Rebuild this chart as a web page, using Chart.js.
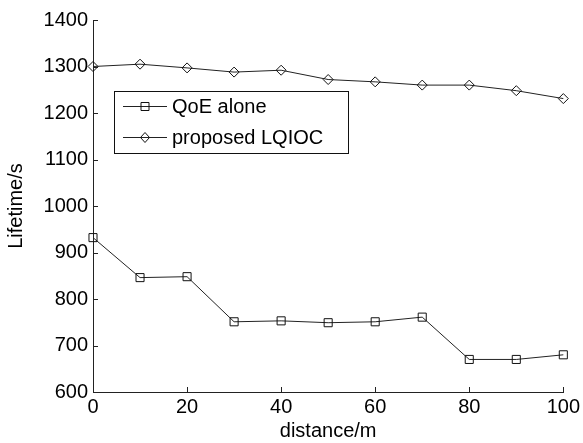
<!DOCTYPE html>
<html>
<head>
<meta charset="utf-8">
<title>Lifetime vs distance</title>
<style>
  html, body { margin: 0; padding: 0; background: #fff; }
  #wrap { width: 583px; height: 443px; }
</style>
<script src="https://cdn.jsdelivr.net/npm/chart.js@4.4.0/dist/chart.umd.min.js"></script>
</head>
<body>
<div id="wrap"><canvas id="chart" width="583" height="443"></canvas></div>
<script>
/* ---- data ---- */
const distances = [0, 10, 20, 30, 40, 50, 60, 70, 80, 90, 100];
const qoeAlone = [932, 846, 848, 751, 753, 749, 751, 761, 670, 670, 680];
const proposedLQIOC = [1300, 1305, 1297, 1288, 1292, 1272, 1267, 1260, 1260, 1248, 1231];
const xTicks = [0, 20, 40, 60, 80, 100];
const yTicks = [600, 700, 800, 900, 1000, 1100, 1200, 1300, 1400];

const FONT = "'Liberation Sans', Arial, Helvetica, sans-serif";
const INK = "#000";

Chart.defaults.font.family = FONT;
Chart.defaults.color = INK;

/* ticks pointing into the plot, matlab style */
const inwardTicks = {
  id: "inwardTicks",
  afterDraw(chart) {
    const { ctx, chartArea, scales } = chart;
    ctx.save();
    ctx.strokeStyle = "#222";
    ctx.lineWidth = 1;
    ctx.beginPath();
    scales.x.ticks.forEach((t) => {
      const px = Math.round(scales.x.getPixelForValue(t.value)) + 0.5;
      ctx.moveTo(px, chartArea.bottom);
      ctx.lineTo(px, chartArea.bottom - 5);
    });
    scales.y.ticks.forEach((t) => {
      const py = Math.round(scales.y.getPixelForValue(t.value)) + 0.5;
      ctx.moveTo(chartArea.left, py);
      ctx.lineTo(chartArea.left + 5, py);
    });
    ctx.stroke();
    ctx.restore();
  },
};

/* boxed legend inside the plot */
function drawMarker(ctx, style, x, y) {
  ctx.beginPath();
  if (style === "rect") {
    ctx.rect(x - 4, y - 4, 8, 8);
  } else {
    ctx.moveTo(x - 4.5, y);
    ctx.lineTo(x, y - 5);
    ctx.lineTo(x + 4.5, y);
    ctx.lineTo(x, y + 5);
    ctx.closePath();
  }
  ctx.stroke();
}

const boxLegend = {
  id: "boxLegend",
  afterDraw(chart) {
    const { ctx, chartArea } = chart;
    const left = chartArea.left + 21;
    const top = chartArea.top + 71;
    const w = 234, h = 62;
    ctx.save();
    ctx.fillStyle = "#fff";
    ctx.fillRect(left, top, w, h);
    ctx.strokeStyle = "#111";
    ctx.lineWidth = 1;
    ctx.strokeRect(left + 0.5, top + 0.5, w, h);

    chart.data.datasets.forEach((ds, i) => {
      const y = Math.round(top + 15 + i * 31) + 0.5;
      ctx.strokeStyle = "#222";
      ctx.beginPath();
      ctx.moveTo(left + 9, y);
      ctx.lineTo(left + 53, y);
      ctx.stroke();
      ctx.strokeStyle = "#111";
      drawMarker(ctx, ds.pointStyle, left + 31, y);
      ctx.fillStyle = INK;
      ctx.font = "20px " + FONT;
      ctx.textBaseline = "middle";
      ctx.fillText(ds.label, left + 58, y + 1);
    });
    ctx.restore();
  },
};

const toPoints = (ys) => distances.map((d, i) => ({ x: d, y: ys[i] }));
const plain = (v) => String(v);

new Chart(document.getElementById("chart"), {
  type: "line",
  data: {
    datasets: [
      {
        label: "QoE alone",
        data: toPoints(qoeAlone),
        borderColor: "#222",
        borderWidth: 1,
        pointStyle: "rect",
        pointRadius: 5.7,
        pointBorderColor: "#111",
        pointBorderWidth: 1,
        pointBackgroundColor: "rgba(0,0,0,0)",
        tension: 0,
        clip: false,
      },
      {
        label: "proposed LQIOC",
        data: toPoints(proposedLQIOC),
        borderColor: "#222",
        borderWidth: 1,
        pointStyle: "rectRot",
        pointRadius: 5,
        pointBorderColor: "#111",
        pointBorderWidth: 1,
        pointBackgroundColor: "rgba(0,0,0,0)",
        tension: 0,
        clip: false,
      },
    ],
  },
  options: {
    responsive: false,
    animation: false,
    devicePixelRatio: 1,
    layout: { padding: { left: 0, right: 18, top: 20, bottom: 0 } },
    plugins: {
      legend: { display: false },
      tooltip: { enabled: false },
    },
    scales: {
      x: {
        type: "linear",
        min: 0,
        max: 100,
        afterBuildTicks: (scale) => {
          scale.ticks = xTicks.map((v) => ({ value: v }));
        },
        afterFit: (scale) => {
          scale.height = 51;
        },
        grid: { display: true, drawOnChartArea: false, drawTicks: false },
        border: { display: true, color: "#222", width: 1 },
        ticks: { padding: 3, font: { size: 20 }, color: INK, maxRotation: 0, callback: plain },
        title: {
          display: true,
          text: "distance/m",
          font: { size: 20 },
          color: INK,
          padding: { top: 2, bottom: 0 },
        },
      },
      y: {
        type: "linear",
        min: 600,
        max: 1400,
        afterBuildTicks: (scale) => {
          scale.ticks = yTicks.map((v) => ({ value: v }));
        },
        afterFit: (scale) => {
          scale.width = 93;
        },
        grid: { display: true, drawOnChartArea: false, drawTicks: false },
        border: { display: true, color: "#222", width: 1 },
        ticks: { padding: 5, font: { size: 20 }, color: INK, callback: plain },
        title: {
          display: true,
          text: "Lifetime/s",
          font: { size: 20 },
          color: INK,
          padding: { top: 4, bottom: 0 },
        },
      },
    },
  },
  plugins: [inwardTicks, boxLegend],
});
</script>
</body>
</html>
